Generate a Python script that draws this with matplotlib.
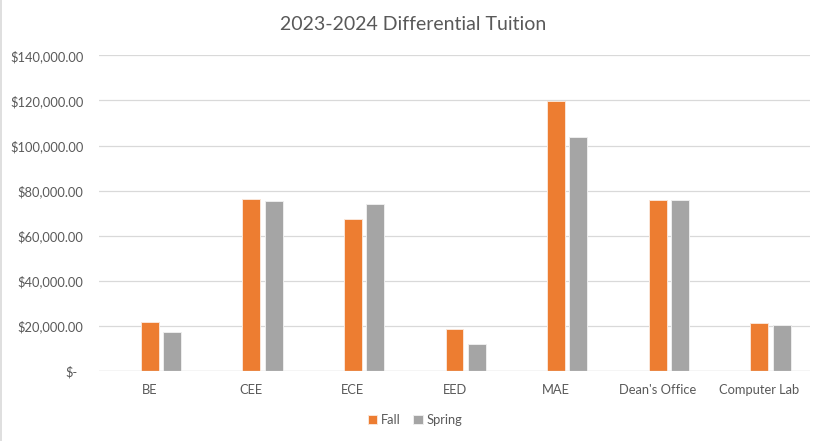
import matplotlib
matplotlib.use("Agg")
import matplotlib.pyplot as plt
import matplotlib.transforms as mtransforms
from matplotlib.lines import Line2D
import numpy as np

categories = ["BE", "CEE", "ECE", "EED", "MAE", "Dean's Office", "Computer Lab"]
fall = [21550, 76200, 67200, 18450, 119700, 75700, 21100]
spring = [17300, 75400, 74000, 12100, 103800, 76000, 20200]
yticks = [0, 20000, 40000, 60000, 80000, 100000, 120000, 140000]
ytick_labels = ["$-", "$20,000.00", "$40,000.00", "$60,000.00", "$80,000.00",
                "$100,000.00", "$120,000.00", "$140,000.00"]

plt.rcParams['font.family'] = ['Lato', 'DejaVu Sans']
text_color = "#595959"
grid_color = "#D9D9D9"
fall_color = "#ED7D31"
spring_color = "#A5A5A5"

fig = plt.figure(figsize=(8.25, 4.41), dpi=100)
ax = fig.add_axes([99/825, 1-371/441, (810-99)/825, (371-55.3)/441])

x = np.arange(len(categories))
w = 0.177
off = 0.2205
ax.bar(x, fall, width=w, color=fall_color, edgecolor="#FBE5D6", linewidth=0.7, label="Fall", zorder=3)
ax.bar(x + off, spring, width=w, color=spring_color, edgecolor="#EDEDED", linewidth=0.7, label="Spring", zorder=3)

ax.set_xlim(-0.5, len(categories) - 0.5)
ax.set_ylim(0, 140000)
ax.set_yticks(yticks)
ax.set_yticklabels(ytick_labels)
ax.set_xticks(x)
ax.set_xticklabels(categories)
ax.tick_params(axis='both', length=0, labelsize=9.3, colors=text_color)
ax.tick_params(axis='y', pad=11)
ax.tick_params(axis='x', pad=9)
ax.grid(axis='y', color=grid_color, linewidth=0.9, zorder=0)
for s in ax.spines.values():
    s.set_visible(False)
ax.axhline(0, color=grid_color, linewidth=0.9, zorder=4)

# accounting-format padding for the zero label
lbl0 = ax.get_yticklabels()[0]
lbl0.set_transform(lbl0.get_transform() + mtransforms.ScaledTranslation(-6/100, 0, fig.dpi_scale_trans))

fig.text(413/825, 1-24/441, "2023-2024 Differential Tuition", ha='center', va='center',
         fontsize=14, color=text_color)

leg = ax.legend(loc='center', bbox_to_anchor=(415/825, 1-420/441), bbox_transform=fig.transFigure,
                ncol=2, frameon=False, fontsize=9.3, handlelength=0.7, handleheight=0.7,
                handletextpad=0.3, columnspacing=1.0, labelcolor=text_color)

fig.add_artist(Line2D([0.5/825, 0.5/825], [0, 1], color="#D9D9D9", linewidth=1.2,
                      transform=fig.transFigure))

fig.savefig("out.png", dpi=100)
